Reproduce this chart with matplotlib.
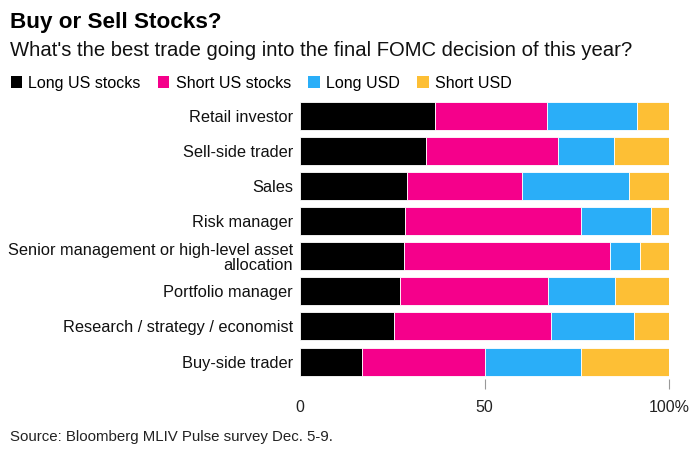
import matplotlib
matplotlib.use("Agg")
import matplotlib.pyplot as plt
from matplotlib.patches import Patch

plt.rcParams["font.family"] = ["Liberation Sans", "DejaVu Sans"]

categories = [
    "Retail investor",
    "Sell-side trader",
    "Sales",
    "Risk manager",
    "Senior management or high-level asset\nallocation",
    "Portfolio manager",
    "Research / strategy / economist",
    "Buy-side trader",
]
series_names = ["Long US stocks", "Short US stocks", "Long USD", "Short USD"]
long_us_stocks = [36.6, 34.1, 29.0, 28.5, 28.1, 27.1, 25.4, 16.8]
short_us_stocks = [30.2, 35.9, 31.0, 47.6, 56.0, 40.2, 42.6, 33.2]
long_usd = [24.4, 15.0, 29.0, 19.0, 7.9, 18.0, 22.4, 26.1]
short_usd = [8.8, 15.0, 11.0, 4.9, 8.0, 14.7, 9.6, 23.9]
colors = ["#000000", "#f5008b", "#2aaef8", "#fdbf35"]

fig = plt.figure(figsize=(6.96, 4.54), dpi=100)
ax = fig.add_axes([0.431, 0.165, 0.5305, 0.6185])

ypos = list(range(len(categories)))
left = [0.0] * len(categories)
for vals, col in zip([long_us_stocks, short_us_stocks, long_usd, short_usd], colors):
    ax.barh(ypos, vals, left=left, height=0.8, color=col, edgecolor="white", linewidth=0.6)
    left = [l + v for l, v in zip(left, vals)]

ax.set_ylim(len(categories) - 0.5, -0.5)
ax.set_xlim(0, 100)
ax.set_yticks(ypos)
ax.set_yticklabels(categories, fontsize=11.8, ha="right", multialignment="right",
                   linespacing=1.0, color="#111111")
ax.set_xticks([0, 50, 100])
ax.set_xticklabels(["0", "50", "100%"], fontsize=11.5)
ax.tick_params(axis="y", length=0, pad=5)
ax.tick_params(axis="x", length=7, color="#999999", pad=8, labelcolor="#222222")
ax.xaxis.get_major_ticks()[0].tick1line.set_visible(False)
for s in ax.spines.values():
    s.set_visible(False)

fig.text(0.0145, 0.951, "Buy or Sell Stocks?", fontsize=16.2, fontweight="bold", va="center")
fig.text(0.0145, 0.888, "What's the best trade going into the final FOMC decision of this year?",
         fontsize=14.6, va="center", color="#111111")

handles = [Patch(facecolor=c, edgecolor="none") for c in colors]
fig.legend(handles, series_names, loc="center left", bbox_to_anchor=(0.006, 0.817), ncol=4,
           frameon=False, fontsize=11.5, handlelength=0.7, handleheight=0.7,
           handletextpad=0.4, columnspacing=1.1, borderaxespad=0)

fig.text(0.0145, 0.037, "Source: Bloomberg MLIV Pulse survey Dec. 5-9.", fontsize=10.8,
         va="center", color="#222222")

fig.savefig("out.png", dpi=100)
